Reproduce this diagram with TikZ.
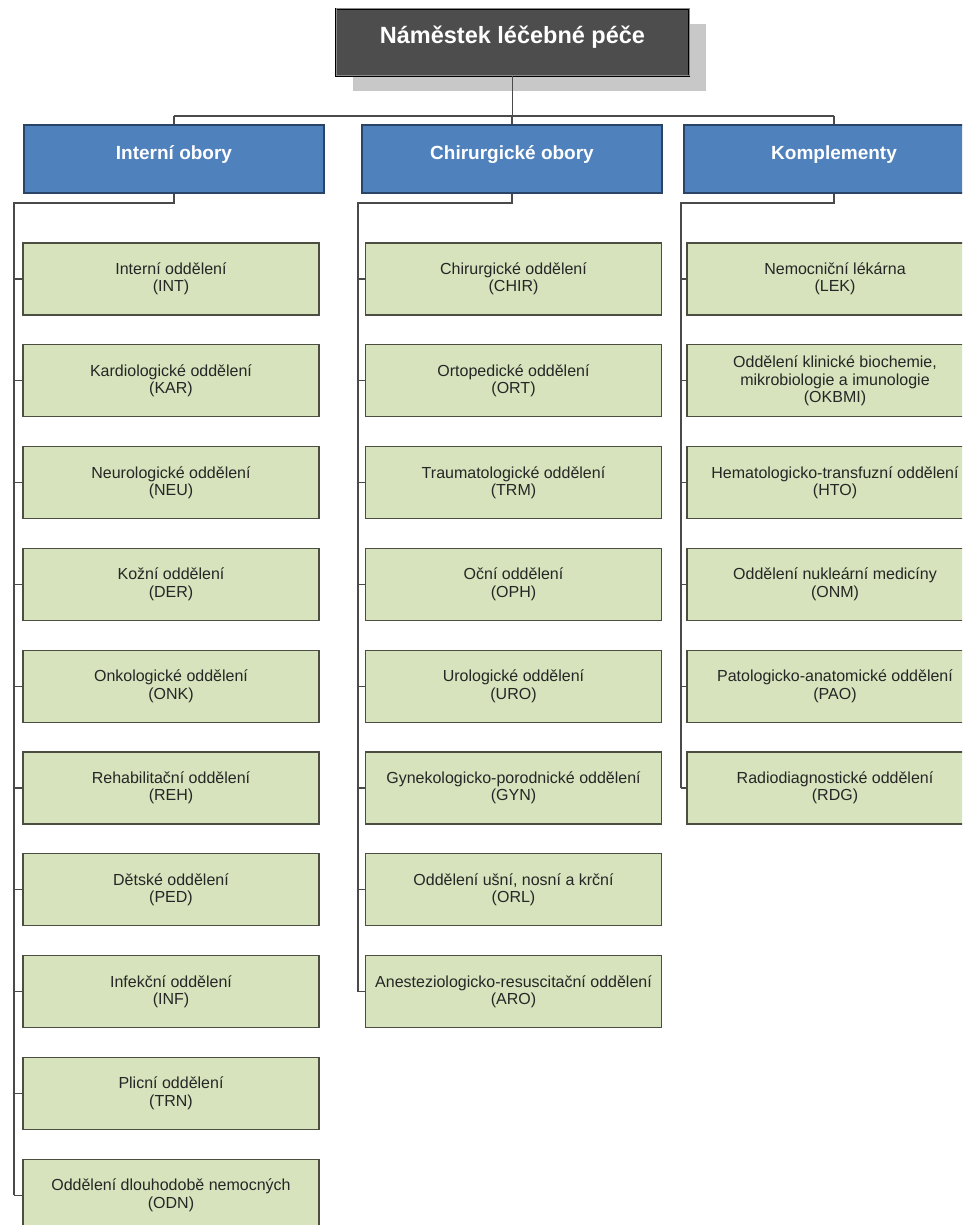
\documentclass[tikz,border=0pt]{standalone}
\usepackage{fontspec}
\setmainfont{Liberation Sans}
\usetikzlibrary{shadows}
\definecolor{linegray}{HTML}{4A4A4A}
\definecolor{unitgreen}{HTML}{D6E3BC}
\definecolor{unitborder}{HTML}{4B4E40}
\definecolor{unittext}{HTML}{262626}
\definecolor{groupblue}{HTML}{4F81BD}
\definecolor{groupborder}{HTML}{2A4468}
\definecolor{chiefgray}{HTML}{4D4D4D}
\definecolor{chiefline}{HTML}{8A8A8A}
\definecolor{shadowgray}{HTML}{C8C8C8}
\begin{document}
\begin{tikzpicture}[x=1pt,y=-1pt,
  line/.style={draw=linegray, line width=1.1pt},
  unit/.style={draw=unitborder, line width=1.1pt, fill=unitgreen,
    minimum width=296pt, minimum height=72pt, inner sep=0pt,
    align=center, text=unittext, font=\fontsize{16}{17.5}\selectfont},
  group/.style={draw=groupborder, line width=1.6pt, fill=groupblue,
    minimum width=300pt, minimum height=68pt, inner sep=0pt,
    text height=14pt, text depth=12pt,
    text=white, font=\fontsize{19}{22}\selectfont\bfseries},
  chief/.style={draw=black, line width=0.9pt, double=chiefline, double distance=1pt,
    fill=chiefgray, minimum width=353pt, minimum height=67pt, inner sep=0pt,
    text height=17pt, text depth=14pt,
    text=white, font=\fontsize{23.5}{26}\selectfont\bfseries,
    drop shadow={shadow xshift=17pt, shadow yshift=-15pt, fill=shadowgray, opacity=1}}
]
\useasboundingbox (0,0) rectangle (962,1225);
\clip (0,0) rectangle (962,1225);

% deputy director
\node[chief] (top) at (512.5,42.5) {Náměstek léčebné péče};

% the three groups of departments
\node[group] (h1) at (174,159) {Interní obory};
\node[group] (h2) at (512,159) {Chirurgické obory};
\node[group] (h3) at (834,159) {Komplementy};

\coordinate (bus) at (0,116);
\draw[line] (top.south) -- (top.south |- bus);
\draw[line] (h1.north |- bus) -- (h3.north |- bus);
\foreach \h in {h1,h2,h3} \draw[line] (\h.north |- bus) -- (\h.north);

% internal medicine
\coordinate (ja) at (14,203);
\foreach \t [count=\i] in {
  {Interní oddělení\\(INT)},
  {Kardiologické oddělení\\(KAR)},
  {Neurologické oddělení\\(NEU)},
  {Kožní oddělení\\(DER)},
  {Onkologické oddělení\\(ONK)},
  {Rehabilitační oddělení\\(REH)},
  {Dětské oddělení\\(PED)},
  {Infekční oddělení\\(INF)},
  {Plicní oddělení\\(TRN)},
  {Oddělení dlouhodobě nemocných\\(ODN)}} {
  \node[unit] (a\i) at (171,{279+101.8*(\i-1)}) {\t};
  \draw[line] (ja |- a\i.west) -- (a\i.west);
}
\draw[line] (h1.south) |- (ja) -- (ja |- a10.west);

% surgery
\coordinate (jb) at (358,203);
\foreach \t [count=\i] in {
  {Chirurgické oddělení\\(CHIR)},
  {Ortopedické oddělení\\(ORT)},
  {Traumatologické oddělení\\(TRM)},
  {Oční oddělení\\(OPH)},
  {Urologické oddělení\\(URO)},
  {Gynekologicko-porodnické oddělení\\(GYN)},
  {Oddělení ušní, nosní a krční\\(ORL)},
  {Anesteziologicko-resuscitační oddělení\\(ARO)}} {
  \node[unit] (b\i) at (513.5,{279+101.8*(\i-1)}) {\t};
  \draw[line] (jb |- b\i.west) -- (b\i.west);
}
\draw[line] (h2.south) |- (jb) -- (jb |- b8.west);

% complementary departments
\coordinate (jc) at (681,203);
\foreach \t [count=\i] in {
  {Nemocniční lékárna\\(LEK)},
  {Oddělení klinické biochemie,\\mikrobiologie a imunologie\\(OKBMI)},
  {Hematologicko-transfuzní oddělení\\(HTO)},
  {Oddělení nukleární medicíny\\(ONM)},
  {Patologicko-anatomické oddělení\\(PAO)},
  {Radiodiagnostické oddělení\\(RDG)}} {
  \node[unit] (c\i) at (835,{279+101.8*(\i-1)}) {\t};
  \draw[line] (jc |- c\i.west) -- (c\i.west);
}
\draw[line] (h3.south) |- (jc) -- (jc |- c6.west);
\end{tikzpicture}
\end{document}
